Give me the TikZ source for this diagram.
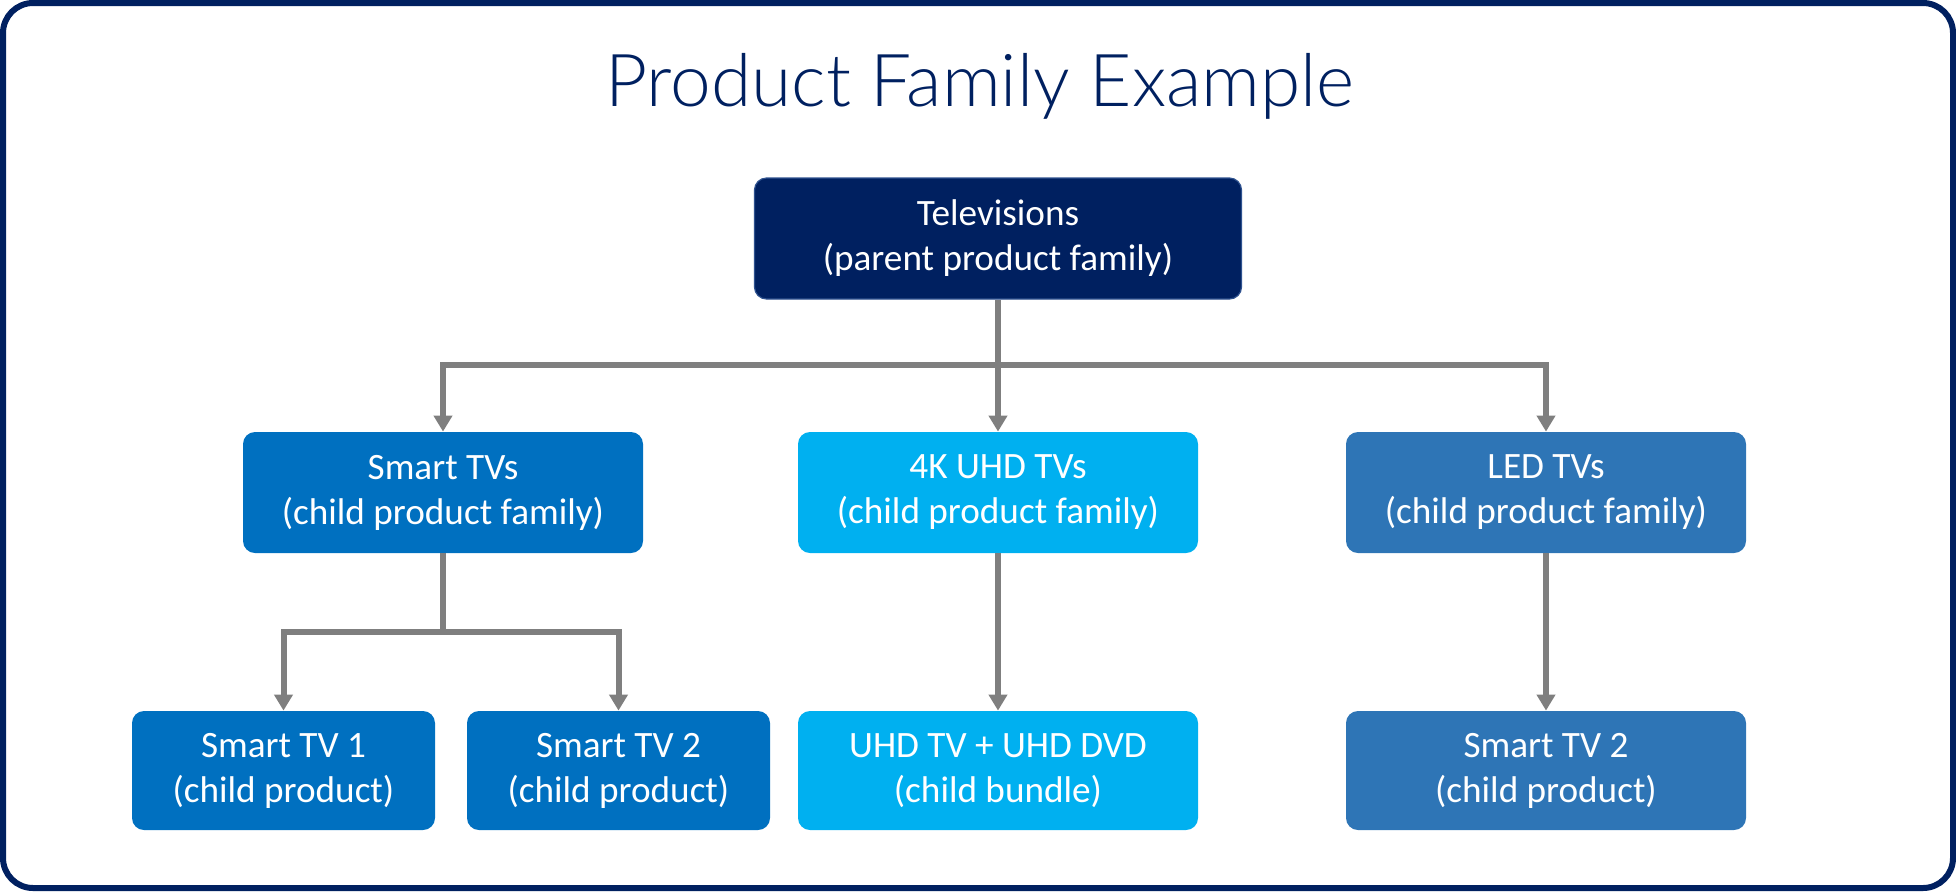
\documentclass[tikz,border=0pt]{standalone}
\usepackage{fontspec}
\setmainfont{Carlito}
\newfontfamily\titlefont{Lato Light}
\usepackage{tikz}
\usetikzlibrary{
    arrows.meta,
    positioning
}
\definecolor{navy}{HTML}{002060}
\definecolor{navyedge}{HTML}{2F528F}
\definecolor{smartblue}{HTML}{0070C0}
\definecolor{uhdcyan}{HTML}{00B0F0}
\definecolor{ledblue}{HTML}{2E75B6}
\definecolor{linegray}{HTML}{7F7F7F}

\begin{document}
\begin{tikzpicture}[x=0.5pt, y=-0.5pt,
    box/.style={rounded corners=6pt, text=white, align=center,
        font=\fontsize{18.6}{22.5}\selectfont, inner sep=0pt},
    famwide/.style={box, minimum width=243.5pt, minimum height=60.5pt},
    famchild/.style={box, minimum width=200pt, minimum height=60.5pt},
    prodbox/.style={box, minimum width=151.5pt, minimum height=59.5pt},
    bundlebox/.style={box, minimum width=200pt, minimum height=59.5pt},
    conn/.style={draw=linegray, line width=3pt,
        -{Triangle[width=9pt,length=8pt]}}
]

% Frame
\useasboundingbox (0,0) rectangle (1956,891);
\draw[navy, line width=3pt, rounded corners=15pt] (3,3) rectangle (1953,888);

% Title
\node[text=navy, font=\titlefont\fontsize{36.5}{44}\selectfont, anchor=base] (title) at (980,106) {Product Family Example};

% Parent family
\node[famwide, fill=navy, draw=navyedge, line width=0.6pt] (tv) at (998,238.5) {Televisions\\(parent product family)};

% Child families
\node[famchild, fill=smartblue] (smart) at (443,492.5) {Smart TVs\\(child product family)};
\node[famchild, fill=uhdcyan] (uhd) at (998,492.5) {4K UHD TVs\\(child product family)};
\node[famchild, fill=ledblue] (led) at (1546,492.5) {LED TVs\\(child product family)};

% Child products
\node[prodbox, fill=smartblue] (smart1) at (283.5,770.5) {Smart TV 1\\(child product)};
\node[prodbox, fill=smartblue] (smart2) at (618.5,770.5) {Smart TV 2\\(child product)};
\node[bundlebox, fill=uhdcyan] (bundle) at (998,770.5) {UHD TV + UHD DVD\\(child bundle)};
\node[bundlebox, fill=ledblue] (led2) at (1546,770.5) {Smart TV 2\\(child product)};

% Connectors
\coordinate (split) at (998,365);
\coordinate (smartsplit) at (443,632);
\draw[conn] (tv.south) -- (split) -| (smart.north);
\draw[conn] (split) -- (uhd.north);
\draw[conn] (split) -| (led.north);
\draw[conn] (smart.south) -- (smartsplit) -| (smart1.north);
\draw[conn] (smartsplit) -| (smart2.north);
\draw[conn] (uhd.south) -- (bundle.north);
\draw[conn] (led.south) -- (led2.north);

\end{tikzpicture}
\end{document}
